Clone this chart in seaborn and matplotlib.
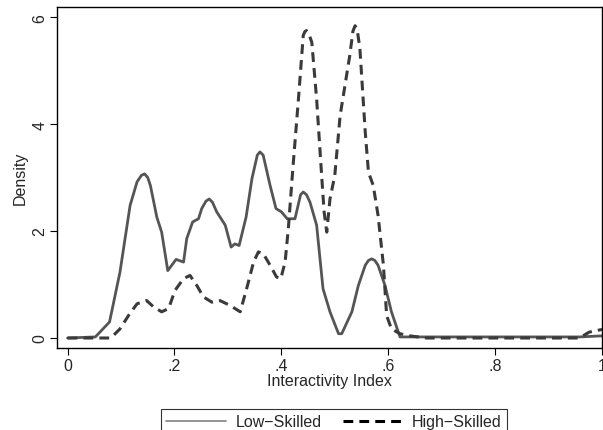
import numpy as np
import pandas as pd
import matplotlib
matplotlib.use('Agg')
import matplotlib.pyplot as plt
from matplotlib.lines import Line2D
import seaborn as sns

# density curves (Interactivity Index vs density)
LOW_X = [0.0, 0.052, 0.0785, 0.098, 0.117, 0.13, 0.138, 0.144, 0.150, 0.155, 0.167,
         0.176, 0.1875, 0.203, 0.217, 0.223, 0.234, 0.245, 0.251, 0.259, 0.265, 0.271,
         0.279, 0.295, 0.306, 0.313, 0.321, 0.334, 0.345, 0.355, 0.36, 0.366, 0.379,
         0.39, 0.40, 0.411, 0.4255, 0.436, 0.441, 0.447, 0.4536, 0.466, 0.478, 0.491,
         0.507, 0.513, 0.532, 0.544, 0.557, 0.563, 0.569, 0.575, 0.581, 0.594, 0.606,
         0.622, 0.958, 1.0]
LOW_Y = [0.0, 0.02, 0.30, 1.23, 2.48, 2.92, 3.04, 3.07, 3.0, 2.85, 2.26,
         1.98, 1.26, 1.47, 1.42, 1.86, 2.17, 2.23, 2.42, 2.56, 2.60, 2.54,
         2.36, 2.11, 1.70, 1.76, 1.73, 2.26, 2.98, 3.42, 3.48, 3.42, 2.85,
         2.42, 2.36, 2.23, 2.23, 2.68, 2.73, 2.68, 2.54, 2.11, 0.92, 0.49,
         0.08, 0.08, 0.49, 0.98, 1.36, 1.45, 1.48, 1.45, 1.36, 0.98, 0.49,
         0.02, 0.02, 0.04]

HIGH_X = [0.0, 0.08, 0.086, 0.098, 0.114, 0.13, 0.148, 0.161, 0.176, 0.189, 0.201,
          0.217, 0.229, 0.242, 0.254, 0.27, 0.285, 0.304, 0.323, 0.335, 0.348, 0.357,
          0.366, 0.379, 0.391, 0.399, 0.407, 0.413, 0.422, 0.432, 0.441, 0.444, 0.447,
          0.451, 0.457, 0.466, 0.475, 0.48, 0.485, 0.491, 0.5, 0.51, 0.519, 0.528,
          0.534, 0.538, 0.542, 0.547, 0.557, 0.563, 0.572, 0.581, 0.591, 0.597, 0.606,
          0.622, 0.64, 0.672, 0.958, 0.976, 1.0]
HIGH_Y = [0.0, 0.0, 0.05, 0.17, 0.42, 0.64, 0.70, 0.58, 0.49, 0.55, 0.89,
          1.11, 1.17, 0.98, 0.77, 0.67, 0.70, 0.61, 0.49, 0.92, 1.42, 1.61,
          1.58, 1.36, 1.14, 1.11, 1.42, 2.04, 3.23, 4.47, 5.66, 5.73, 5.75,
          5.70, 5.53, 4.47, 3.10, 2.36, 1.98, 2.60, 3.04, 4.16, 4.72, 5.28,
          5.74, 5.84, 5.76, 5.41, 3.85, 3.10, 2.85, 2.29, 1.36, 0.42, 0.17,
          0.08, 0.04, 0.0, 0.0, 0.11, 0.16]

X_TICKS = [0, 0.2, 0.4, 0.6, 0.8, 1.0]
X_TICKLABELS = ['0', '.2', '.4', '.6', '.8', '1']
Y_TICKS = [0, 2, 4, 6]

low = pd.DataFrame({'x': LOW_X, 'density': LOW_Y})
high = pd.DataFrame({'x': HIGH_X, 'density': HIGH_Y})

sns.set_style('white')
plt.rcParams['font.family'] = ['Liberation Sans', 'DejaVu Sans']

fig = plt.figure(figsize=(6.03, 4.31), dpi=100)
ax = fig.add_axes([57 / 603, 1 - 349 / 431, 545 / 603, 341 / 431])

sns.lineplot(data=low, x='x', y='density', ax=ax, color='#555555', lw=2.0)
sns.lineplot(data=high, x='x', y='density', ax=ax, color='#3a3a3a', lw=2.2,
             dashes=False, linestyle=(0, (3.2, 2.0)))

ax.set_xlim(-0.0198, 1.0)
ax.set_ylim(-0.187, 6.19)
ax.set_xticks(X_TICKS)
ax.set_xticklabels(X_TICKLABELS)
ax.set_yticks(Y_TICKS)
ax.tick_params(axis='both', length=5, width=0.8, color='black', labelsize=11.5,
               direction='out', bottom=True, left=True, pad=2)
for lab in ax.get_yticklabels():
    lab.set_rotation(90)
    lab.set_va('center')
for sp in ax.spines.values():
    sp.set_color('black')
    sp.set_linewidth(1.0)
ax.set_xlabel('Interactivity Index', fontsize=11.5, labelpad=0)
ax.set_ylabel('Density', fontsize=11.5, labelpad=3)

handles = [Line2D([], [], color='#808080', lw=1.2),
           Line2D([], [], color='black', lw=2.2, linestyle=(0, (3.2, 2.0)))]
leg = fig.legend(handles, ['Low\u2212Skilled', 'High\u2212Skilled'], ncol=2,
                 loc='upper center', bbox_to_anchor=(0.554, 0.049),
                 frameon=True, fancybox=False, edgecolor='black', fontsize=11.5,
                 handlelength=3.75, handletextpad=0.6, columnspacing=1.3,
                 borderpad=0.35, borderaxespad=0)
leg.get_frame().set_linewidth(0.8)

fig.savefig('out.png', dpi=100)
